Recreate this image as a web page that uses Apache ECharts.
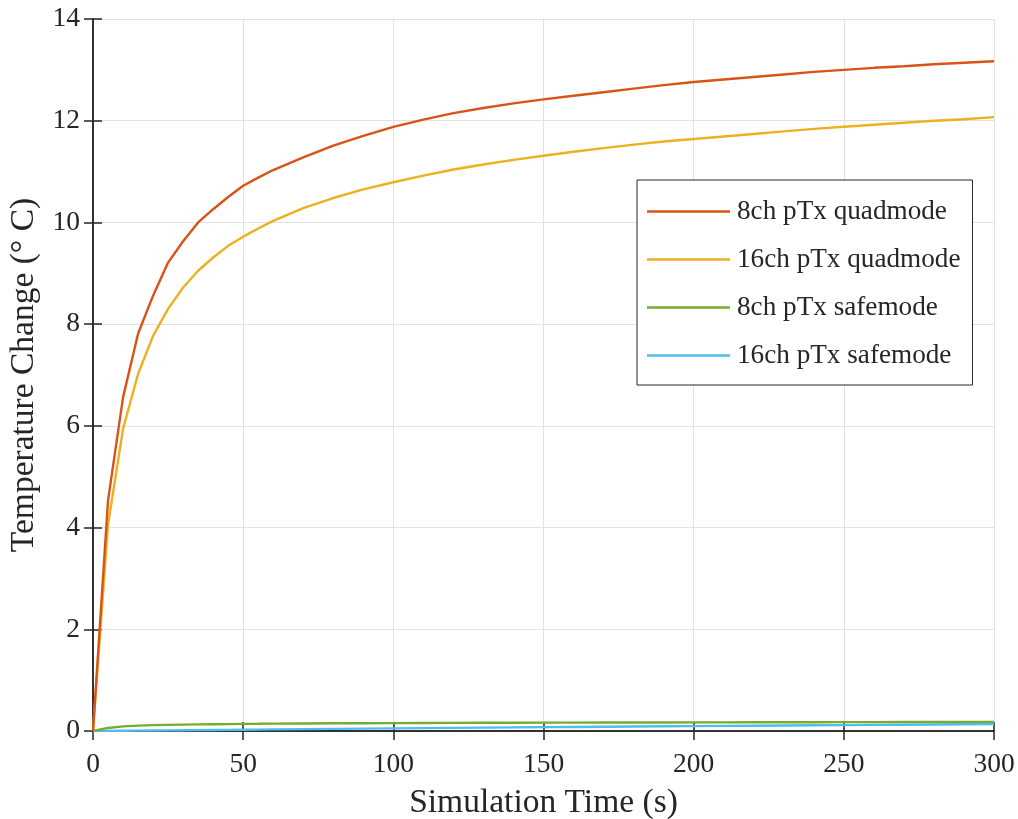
<!DOCTYPE html>
<html>
<head>
<meta charset="utf-8">
<script src="https://cdn.jsdelivr.net/npm/echarts@6/dist/echarts.min.js"></script>
<style>html,body{margin:0;padding:0;background:#fff}#c{width:1018px;height:819px}</style>
</head>
<body>
<div id="c"></div>
<script>
const times = [0,5,10,15,20,25,30,35,40,45,50,55,60,70,80,90,100,110,120,130,140,150,160,170,180,190,200,210,220,230,240,250,260,270,280,290,300];
const quad8 = [0,4.53,6.56,7.81,8.56,9.21,9.63,10.0,10.26,10.50,10.72,10.88,11.03,11.28,11.51,11.70,11.88,12.02,12.15,12.25,12.34,12.42,12.49,12.56,12.63,12.70,12.76,12.81,12.86,12.91,12.96,13.00,13.04,13.07,13.11,13.14,13.17];
const quad16 = [0,4.05,5.94,7.02,7.77,8.30,8.72,9.05,9.31,9.54,9.72,9.88,10.03,10.28,10.48,10.65,10.79,10.92,11.04,11.14,11.23,11.31,11.39,11.46,11.53,11.59,11.64,11.69,11.74,11.79,11.84,11.88,11.92,11.96,12.00,12.03,12.07];
const safe8 = [0,0.06,0.09,0.105,0.115,0.12,0.125,0.13,0.133,0.136,0.14,0.142,0.145,0.148,0.151,0.153,0.155,0.157,0.159,0.161,0.162,0.164,0.165,0.166,0.167,0.168,0.169,0.170,0.171,0.172,0.173,0.174,0.175,0.176,0.177,0.178,0.179];
const safe16 = [0,0.003,0.006,0.008,0.011,0.013,0.016,0.018,0.021,0.023,0.026,0.028,0.031,0.036,0.041,0.046,0.051,0.056,0.061,0.066,0.071,0.076,0.080,0.084,0.088,0.092,0.096,0.100,0.104,0.108,0.112,0.116,0.120,0.124,0.128,0.132,0.136];
const seriesNames = ['8ch pTx quadmode','16ch pTx quadmode','8ch pTx safemode','16ch pTx safemode'];
const seriesColors = ['#D95319','#EDB120','#77AC30','#4DBEEE'];
const xTicks = {min:0, max:300, interval:50};
const yTicks = {min:0, max:14, interval:2};

const font = 'Liberation Serif';
const ink = '#262626';
const allData = [quad8, quad16, safe8, safe16];

function pairs(arr){ return times.map((t,i)=>[t, arr[i]]); }

const axisBase = {
  type:'value',
  axisLine:{show:true, lineStyle:{color:ink, width:1.5}},
  axisTick:{show:true, inside:true, length:9, lineStyle:{color:ink, width:1.5}},
};

const chart = echarts.init(document.getElementById('c'), null, {renderer:'canvas'});
chart.setOption({
  animation:false,
  backgroundColor:'#fff',
  textStyle:{fontFamily:font, color:ink},
  grid:{left:93, right:24, top:19, bottom:88, containLabel:false, outerBoundsMode:'none'},
  xAxis:[
    Object.assign({}, axisBase, {
      position:'bottom', min:xTicks.min, max:xTicks.max, interval:xTicks.interval,
      axisLabel:{show:true, fontFamily:font, fontSize:27.5, color:ink, margin:20},
      splitLine:{show:true, lineStyle:{color:'#e2e2e2', width:1}},
      name:'Simulation Time (s)', nameLocation:'middle', nameGap:55,
      nameTextStyle:{fontFamily:font, fontSize:33.5, color:ink}
    }),
    Object.assign({}, axisBase, {
      position:'top', min:xTicks.min, max:xTicks.max, interval:xTicks.interval,
      axisLabel:{show:false}, splitLine:{show:false}
    })
  ],
  yAxis:[
    Object.assign({}, axisBase, {
      position:'left', min:yTicks.min, max:yTicks.max, interval:yTicks.interval,
      axisLabel:{show:true, fontFamily:font, fontSize:27.5, color:ink, margin:13},
      splitLine:{show:true, lineStyle:{color:'#e2e2e2', width:1}},
      name:'Temperature Change (° C)', nameLocation:'middle', nameGap:49,
      nameTextStyle:{fontFamily:font, fontSize:33.5, color:ink}
    }),
    Object.assign({}, axisBase, {
      position:'right', min:yTicks.min, max:yTicks.max, interval:yTicks.interval,
      axisLabel:{show:false}, splitLine:{show:false}
    })
  ],
  legend:{
    show:true, orient:'vertical', left:637, top:180,
    padding:[18,12,16,10],
    itemWidth:83, itemHeight:2.5, itemGap:21, icon:'rect',
    backgroundColor:'#fff', borderColor:ink, borderWidth:1,
    textStyle:{fontFamily:font, fontSize:27.2, color:ink, lineHeight:27, padding:[0,0,0,2]},
    data:seriesNames
  },
  series: seriesNames.map((n,i)=>({
    name:n, type:'line', xAxisIndex:0, yAxisIndex:0,
    data:pairs(allData[i]), showSymbol:false, symbol:'none', smooth:false,
    lineStyle:{color:seriesColors[i], width:2.4},
    itemStyle:{color:seriesColors[i]},
    z: 3 + (4-i)
  }))
});
</script>
</body>
</html>
